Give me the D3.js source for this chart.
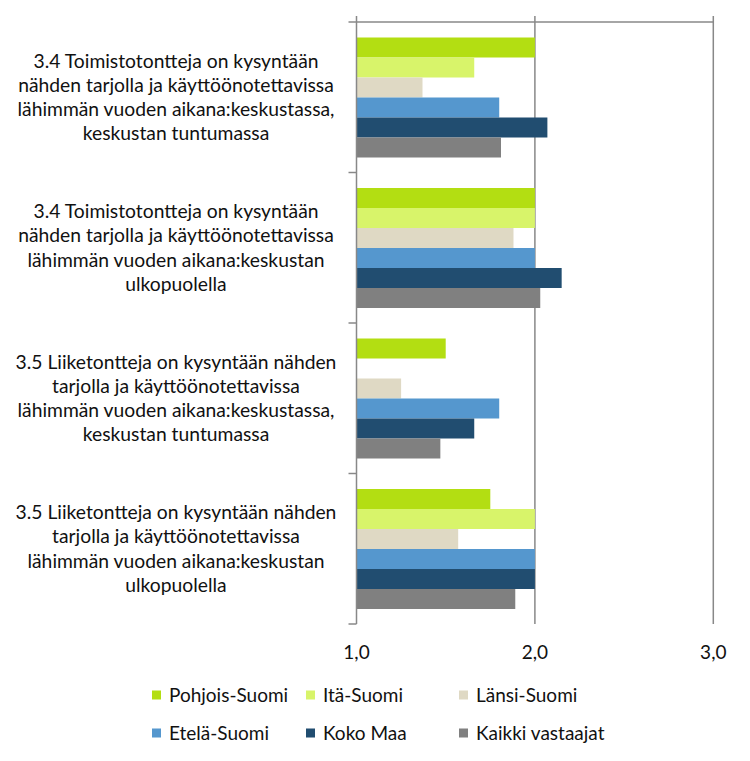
<!DOCTYPE html>
<html><head><meta charset="utf-8">
<script src="https://cdn.jsdelivr.net/npm/d3@7/dist/d3.min.js"></script>
<style>body{margin:0;background:#fff;} svg{display:block;}</style>
</head><body>
<svg id="chart" width="750" height="761"></svg>
<script>
const categories = [
  "3.4 Toimistotontteja on kysyntään|nähden tarjolla ja käyttöönotettavissa|lähimmän vuoden aikana:keskustassa,|keskustan tuntumassa",
  "3.4 Toimistotontteja on kysyntään|nähden tarjolla ja käyttöönotettavissa|lähimmän vuoden aikana:keskustan|ulkopuolella",
  "3.5 Liiketontteja on kysyntään nähden|tarjolla ja käyttöönotettavissa|lähimmän vuoden aikana:keskustassa,|keskustan tuntumassa",
  "3.5 Liiketontteja on kysyntään nähden|tarjolla ja käyttöönotettavissa|lähimmän vuoden aikana:keskustan|ulkopuolella"
];
const seriesNames = ["Pohjois-Suomi","Itä-Suomi","Länsi-Suomi","Etelä-Suomi","Koko Maa","Kaikki vastaajat"];
const seriesColors = ["#B3DE12","#D8F46A","#DFD9C4","#5597CE","#214D70","#808080"];
const pohjois = [2.0, 2.0, 1.50, 1.75];
const ita     = [1.66, 2.0, null, 2.0];
const lansi   = [1.37, 1.88, 1.25, 1.57];
const etela   = [1.80, 2.0, 1.80, 2.0];
const kokoMaa = [2.07, 2.15, 1.66, 2.0];
const kaikki  = [1.81, 2.03, 1.47, 1.89];
const seriesValues = [pohjois, ita, lansi, etela, kokoMaa, kaikki];
const xTicks = [1, 2, 3];

const svg = d3.select("#chart");
const font = "Lato, 'Open Sans', sans-serif";
const gridColor = "#888888";

const x = d3.scaleLinear().domain([1, 3]).range([356.5, 713.3]);
const y0 = d3.scaleBand().domain(d3.range(categories.length)).range([22, 624]);
const y1 = d3.scaleBand().domain(d3.range(seriesNames.length)).range([15.5, 135.5]);

// gridlines
svg.append("g").selectAll("line").data(xTicks.slice(1)).join("line")
  .attr("x1", d => x(d)).attr("x2", d => x(d))
  .attr("y1", 16).attr("y2", 624)
  .attr("stroke", gridColor).attr("stroke-width", 1.5);
// top line
svg.append("line").attr("x1", x(1)).attr("x2", x(3)).attr("y1", 22).attr("y2", 22)
  .attr("stroke", gridColor).attr("stroke-width", 1.5);

// bars
categories.forEach((c, ci) => {
  const g = svg.append("g").attr("transform", `translate(0,${y0(ci)})`);
  seriesValues.forEach((vals, si) => {
    const v = vals[ci];
    if (v == null) return;
    g.append("rect")
      .attr("x", x(1)).attr("y", y1(si))
      .attr("width", x(v) - x(1)).attr("height", y1.bandwidth())
      .attr("fill", seriesColors[si]);
  });
});

// category axis
svg.append("line").attr("x1", x(1)).attr("x2", x(1)).attr("y1", 16).attr("y2", 624)
  .attr("stroke", gridColor).attr("stroke-width", 1.5);
const bounds = d3.range(categories.length + 1).map(i => i < categories.length ? y0(i) : y0(i - 1) + y0.bandwidth());
svg.append("g").selectAll("line").data(bounds).join("line")
  .attr("x1", x(1) - 8).attr("x2", x(1)).attr("y1", d => d).attr("y2", d => d)
  .attr("stroke", gridColor).attr("stroke-width", 1.5);

// category labels
categories.forEach((c, ci) => {
  const lines = c.split("|");
  const cy = y0(ci) + y0.bandwidth() / 2;
  const lh = 24.3;
  const t = svg.append("text").attr("font-family", font).attr("font-size", 19.3)
    .attr("fill", "#111").attr("text-anchor", "middle");
  lines.forEach((ln, li) => {
    t.append("tspan").attr("x", 176)
      .attr("y", cy + (li - (lines.length - 1) / 2) * lh)
      .attr("dy", "0.35em").text(ln);
  });
});

// x tick labels
svg.append("g").selectAll("text").data(xTicks).join("text")
  .attr("x", d => x(d)).attr("y", 652).attr("dy", "0.35em")
  .attr("text-anchor", "middle").attr("font-family", font).attr("font-size", 19)
  .attr("fill", "#111").text(d => d3.format(".1f")(d).replace(".", ","));

// legend
const legX = [152, 306, 459];
const legY = [695, 733];
seriesNames.forEach((n, i) => {
  const lx = legX[i % 3], ly = legY[Math.floor(i / 3)];
  svg.append("rect").attr("x", lx).attr("y", ly - 4.5).attr("width", 9).attr("height", 9)
    .attr("fill", seriesColors[i]);
  svg.append("text").attr("x", lx + 17).attr("y", ly).attr("dy", "0.35em")
    .attr("font-family", font).attr("font-size", 19).attr("fill", "#111").text(n);
});
</script>
</body></html>
